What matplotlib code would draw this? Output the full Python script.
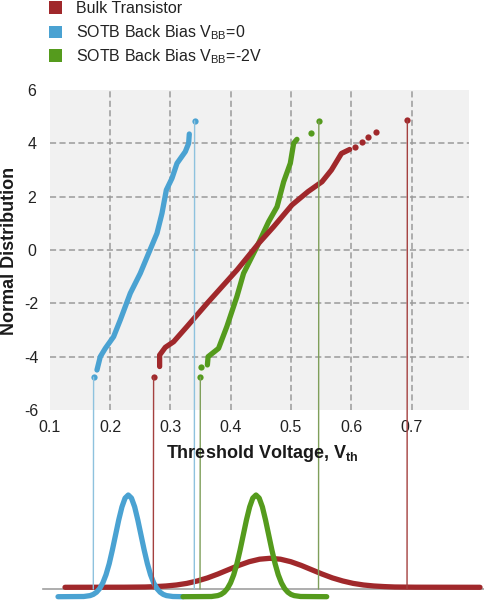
import matplotlib
matplotlib.use("Agg")
import matplotlib.pyplot as plt
from matplotlib.patches import Rectangle, ConnectionPatch

FONT = ['Liberation Sans', 'DejaVu Sans']
plt.rcParams['font.family'] = FONT
plt.rcParams['mathtext.fontset'] = 'custom'
plt.rcParams['mathtext.rm'] = 'Liberation Sans'
plt.rcParams['mathtext.bf'] = 'Liberation Sans:bold'

# ---------------- data ----------------
series_names = ["Bulk Transistor", r"SOTB Back Bias V$_{\mathrm{BB}}$=0", r"SOTB Back Bias V$_{\mathrm{BB}}$=-2V"]
x_ticks = [0.1, 0.2, 0.3, 0.4, 0.5, 0.6, 0.7]
y_ticks = [-6, -4, -2, 0, 2, 4, 6]

# normal probability plot traces (Vth, z)
blue_v = [0.1784, 0.1839, 0.1922, 0.2060, 0.2171, 0.2337, 0.2502, 0.2640, 0.2779, 0.2862, 0.2934, 0.3028, 0.3111, 0.3249, 0.3304, 0.3315]
blue_z = [-4.50, -4.00, -3.69, -3.25, -2.62, -1.62, -0.875, -0.125, 0.625, 1.375, 2.25, 2.69, 3.25, 3.69, 4.00, 4.35]
red_v = [0.2823, 0.2823, 0.2917, 0.3055, 0.3277, 0.3610, 0.4106, 0.4466, 0.4714, 0.5018, 0.5284, 0.5516, 0.5672, 0.5838, 0.5975]
red_z = [-4.37, -3.94, -3.65, -3.44, -2.87, -2.00, -0.75, 0.25, 0.875, 1.69, 2.19, 2.56, 3.00, 3.62, 3.77]
green_v = [0.3615, 0.3627, 0.3800, 0.3938, 0.4104, 0.4215, 0.4437, 0.4630, 0.4770, 0.4880, 0.4990, 0.5045, 0.5100]
green_z = [-4.31, -4.00, -3.69, -2.87, -1.75, -0.875, 0.125, 1.06, 1.62, 2.56, 3.25, 4.00, 4.15]

# isolated points
red_dot_v = [0.6058, 0.6179, 0.6284, 0.6408]
red_dot_z = [3.87, 4.05, 4.25, 4.42]
green_dot_v = [0.3514, 0.5326]
green_dot_z = [-4.37, 4.37]

# extreme points with drop lines (v, z)
blue_ext_v = [0.1728, 0.3403]
blue_ext_z = [-4.77, 4.84]
red_ext_v = [0.2723, 0.6931]
red_ext_z = [-4.77, 4.87]
green_ext_v = [0.3498, 0.5463]
green_ext_z = [-4.77, 4.83]

# distribution sketches below (Vth, height)
blue_pdf_v = [0.1143, 0.1570, 0.1675, 0.1728, 0.1781, 0.1833, 0.1886, 0.1939, 0.1992, 0.2044, 0.2097, 0.2150, 0.2203, 0.2255,
              0.2308, 0.2361, 0.2414, 0.2466, 0.2519, 0.2572, 0.2625, 0.2677, 0.2730, 0.2783, 0.2836, 0.2888, 0.2941, 0.3047, 0.3216]
blue_pdf_h = [3.3, 3.5, 4.4, 5.6, 7.8, 11.4, 17.1, 25.3, 36.3, 49.9, 65.0, 80.1, 93.1, 101.9,
              105.0, 101.9, 93.1, 80.1, 65.0, 49.9, 36.3, 25.3, 17.1, 11.4, 7.8, 5.6, 4.4, 3.5, 3.3]
green_pdf_v = [0.3216, 0.3688, 0.3793, 0.3846, 0.3899, 0.3951, 0.4004, 0.4057, 0.4110, 0.4162, 0.4215, 0.4268, 0.4321, 0.4373,
               0.4426, 0.4479, 0.4532, 0.4584, 0.4637, 0.4690, 0.4743, 0.4795, 0.4848, 0.4901, 0.4954, 0.5006, 0.5059, 0.5165, 0.5599]
green_pdf_h = [3.3, 3.5, 4.4, 5.6, 7.8, 11.4, 17.1, 25.3, 36.3, 49.9, 65.0, 80.1, 93.1, 101.9,
               105.0, 101.9, 93.1, 80.1, 65.0, 49.9, 36.3, 25.3, 17.1, 11.4, 7.8, 5.6, 4.4, 3.5, 3.3]
red_pdf_v = [0.1259, 0.2243, 0.2588, 0.2761, 0.2933, 0.3106, 0.3278, 0.3451, 0.3623, 0.3796, 0.3968, 0.4141, 0.4313, 0.4486,
             0.4658, 0.4831, 0.5003, 0.5176, 0.5348, 0.5521, 0.5693, 0.5866, 0.6038, 0.6211, 0.6383, 0.6556, 0.6728, 0.7073, 0.8141]
red_pdf_h = [12.7, 12.8, 13.0, 13.4, 14.0, 15.0, 16.6, 19.0, 22.1, 26.0, 30.3, 34.6, 38.3, 40.8,
             41.7, 40.8, 38.3, 34.6, 30.3, 26.0, 22.1, 19.0, 16.6, 15.0, 14.0, 13.4, 13.0, 12.8, 12.7]
baseline_v = [0.089, 0.8207]
baseline_h = 11.0

RED = "#a0282b"
BLUE = "#4aa2d2"
GREEN = "#559b1d"
RED_L = "#a4403f"
BLUE_L = "#8ec2de"
GREEN_L = "#7f9f5a"

W, H = 484, 600
fig = plt.figure(figsize=(W / 100, H / 100), dpi=100)
fig.patch.set_facecolor("white")

def fx(px):
    return px / W

def fy(py):
    return 1 - py / H

# ---------------- top axes ----------------
L, R, T, B = 49.7, 468.8, 90, 410
ax = fig.add_axes([fx(L), fy(B), (R - L) / W, (B - T) / H])
ax.set_facecolor("#f1f1f1")
ax.set_xlim(0.1, 0.795)
ax.set_ylim(-6, 6)
for s in ax.spines.values():
    s.set_visible(False)
ax.set_xticks(x_ticks)
ax.set_yticks(y_ticks)
ax.set_xticklabels([f"{t:.1f}" for t in x_ticks])
ax.set_yticklabels([f"{t:d}" for t in y_ticks])
ax.tick_params(length=0, labelsize=11.5, colors="#222222")
ax.tick_params(axis="x", pad=7)
ax.tick_params(axis="y", pad=13)
for lab in ax.get_yticklabels():
    lab.set_ha("center")

grid_style = dict(color="#9a9a9a", lw=1.1, ls=(0, (4, 2.2)), zorder=1)
for t in x_ticks[1:]:
    ax.axvline(t, **grid_style)
for t in y_ticks[1:-1]:
    ax.axhline(t, **grid_style)

lw_curve = 3.8
ax.plot(blue_v, blue_z, color=BLUE, lw=lw_curve, solid_capstyle="round", solid_joinstyle="round", zorder=3)
ax.plot(green_v, green_z, color=GREEN, lw=lw_curve, solid_capstyle="round", solid_joinstyle="round", zorder=3)
ax.plot(red_v, red_z, color=RED, lw=lw_curve, solid_capstyle="round", solid_joinstyle="round", zorder=4)
ax.plot(red_dot_v, red_dot_z, "o", color=RED, ms=4.5, mec="none", zorder=4)
ax.plot(green_dot_v, green_dot_z, "o", color=GREEN, ms=4.5, mec="none", zorder=4)
ax.plot(blue_ext_v, blue_ext_z, "o", color=BLUE, ms=4.5, mec="none", zorder=5)
ax.plot(red_ext_v, red_ext_z, "o", color=RED, ms=4.5, mec="none", zorder=5)
ax.plot(green_ext_v, green_ext_z, "o", color=GREEN, ms=4.5, mec="none", zorder=5)

# ---------------- bottom axes ----------------
ax2 = fig.add_axes([0, 0, 1, 130 / H])
ax2.set_xlim(0.3 - 170 / 603, 0.3 + 314 / 603)
ax2.set_ylim(0, 130)
ax2.axis("off")
ax2.plot(baseline_v, [baseline_h, baseline_h], color="#a0a0a0", lw=1.2, zorder=1)
ax2.plot(red_pdf_v, red_pdf_h, color=RED, lw=3.8, solid_capstyle="round", solid_joinstyle="round", zorder=3)
ax2.plot(blue_pdf_v, blue_pdf_h, color=BLUE, lw=3.8, solid_capstyle="round", solid_joinstyle="round", zorder=4)
ax2.plot(green_pdf_v, green_pdf_h, color=GREEN, lw=3.8, solid_capstyle="round", solid_joinstyle="round", zorder=4)

# drop lines from the extreme points to the baseline
for vs, zs, col in [(blue_ext_v, blue_ext_z, BLUE_L), (red_ext_v, red_ext_z, RED_L), (green_ext_v, green_ext_z, GREEN_L)]:
    for v, z in zip(vs, zs):
        cp = ConnectionPatch(xyA=(v, z), coordsA=ax.transData, xyB=(v, baseline_h), coordsB=ax2.transData,
                             color=col, lw=1.0, zorder=2)
        fig.add_artist(cp)

# ---------------- labels ----------------
fig.text(fx(262), fy(458), r"Threshold Voltage, V$_{\mathbf{th}}$", ha="center", va="baseline",
         fontsize=13, fontweight="bold", color="#1a1a1a")
fig.text(fx(10), fy(251), "Normal Distribution", rotation=90, ha="center", va="center",
         fontsize=13, fontweight="bold", color="#1a1a1a")

# ---------------- legend ----------------
leg_colors = [RED, BLUE, GREEN]
leg_y = [7.5, 31.7, 55.5]
for name, col, yc in zip(series_names, leg_colors, leg_y):
    fig.add_artist(Rectangle((fx(49), fy(yc + 6)), 13 / W, 12 / H, transform=fig.transFigure,
                             facecolor=col, edgecolor="none"))
    fig.text(fx(76), fy(yc + 5.5), name, ha="left", va="baseline", fontsize=11.5, color="#222222")

fig.savefig("out.png", dpi=100, facecolor="white")
